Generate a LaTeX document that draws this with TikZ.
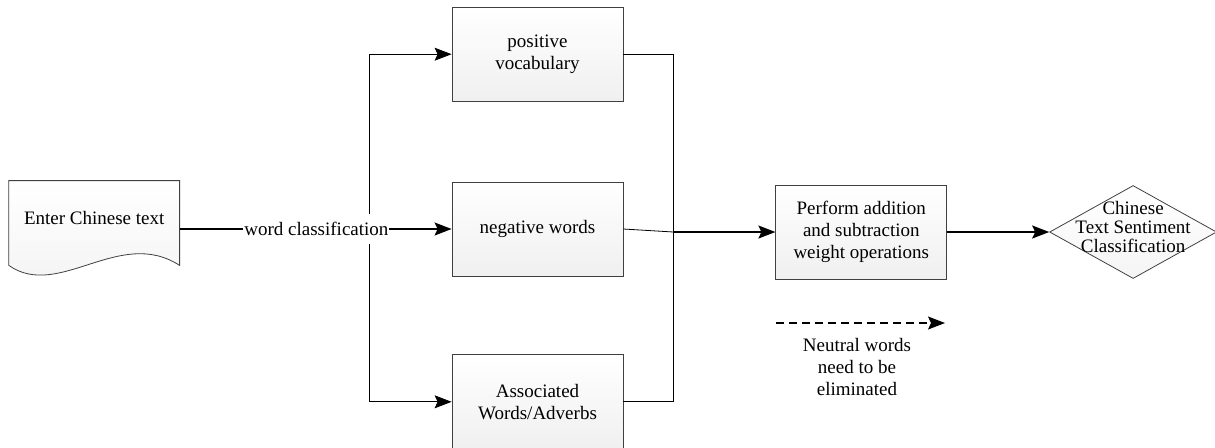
\documentclass[tikz,border=0pt]{standalone}
\usepackage{fontspec}
\setmainfont{Liberation Serif}
\usetikzlibrary{
  arrows.meta,
  positioning,
  shapes.geometric
}

\begin{document}
\begin{tikzpicture}[
  x=0.5pt,
  y=-0.5pt,
  node distance=39.5pt and 76pt,
  font=\fontsize{9.5}{11}\selectfont,
  box/.style={
    draw=black!75,
    align=center,
    minimum width=85.5pt,
    minimum height=47pt,
    top color=white,
    bottom color=gray!12
  },
  docbox/.style={
    minimum width=85pt,
    minimum height=42pt,
    inner sep=0pt
  },
  decision/.style={
    diamond,
    draw=black!75,
    minimum width=83.5pt,
    minimum height=46.5pt,
    inner sep=0pt,
    top color=white,
    bottom color=gray!8
  },
  arrow/.style={
    -{Stealth[length=8.5pt,width=6.5pt,inset=1.5pt]}
  }
]

\useasboundingbox (0,0) rectangle (1215,447);

\node[box] (neg) at (537.5,229) {negative words};
\node[box,above=of neg,yshift=0.5pt] (pos) {positive\\vocabulary};
\node[box,below=39pt of neg] (assoc) {Associated\\Words/Adverbs};

\node[box,right=of neg,yshift=-1.5pt] (perf)
  {Perform addition\\and subtraction\\weight operations};
\node[decision,right=51pt of perf] (cls) {};
\node[align=center,font=\fontsize{9.5}{9.3}\selectfont]
  (clstext) at ([yshift=2.5pt]cls.center)
  {Chinese\\Text Sentiment\\Classification};

\node[docbox,left=136pt of neg,yshift=3pt] (doc) {};
\draw[draw=black!75,top color=white,bottom color=gray!10]
  (doc.north west) -- (doc.north east) -- (doc.south east)
  .. controls ([xshift=-30pt,yshift=19.5pt]doc.south east)
  and ([xshift=25pt,yshift=-17.5pt]doc.south west) ..
  (doc.south west) -- cycle;
\node (doctext) at ([yshift=2.5pt]doc.center) {Enter Chinese text};

\coordinate (split) at ([xshift=-41pt]neg.west);
\coordinate (join) at ([xshift=25pt]neg.east);

\draw (split |- pos) -- (split |- assoc);
\draw[arrow] (split |- pos) -- (pos);
\draw[arrow,thick] (split) -- (neg);
\draw[arrow] (split |- assoc) -- (assoc);
\draw[thick] (doc.east |- neg.west)
  -- node[pos=0.72,fill=white,inner xsep=0.5pt,inner ysep=4pt]
  {word classification} (split);

\draw (pos.east) -- (join |- pos) -- (join |- assoc) -- (assoc.east);
\draw (neg.east) -- (join |- perf);
\draw[arrow,thick] (join |- perf) -- (perf);
\draw[arrow,thick] (perf) -- (cls);

\coordinate (nstart) at (776,323);
\coordinate (nend) at (945,323);
\draw[arrow,semithick,dash pattern=on 4pt off 2.5pt] (nstart) -- (nend);
\node[align=center,anchor=north] (neutral) at (857,331)
  {Neutral words\\need to be\\eliminated};

\end{tikzpicture}
\end{document}
